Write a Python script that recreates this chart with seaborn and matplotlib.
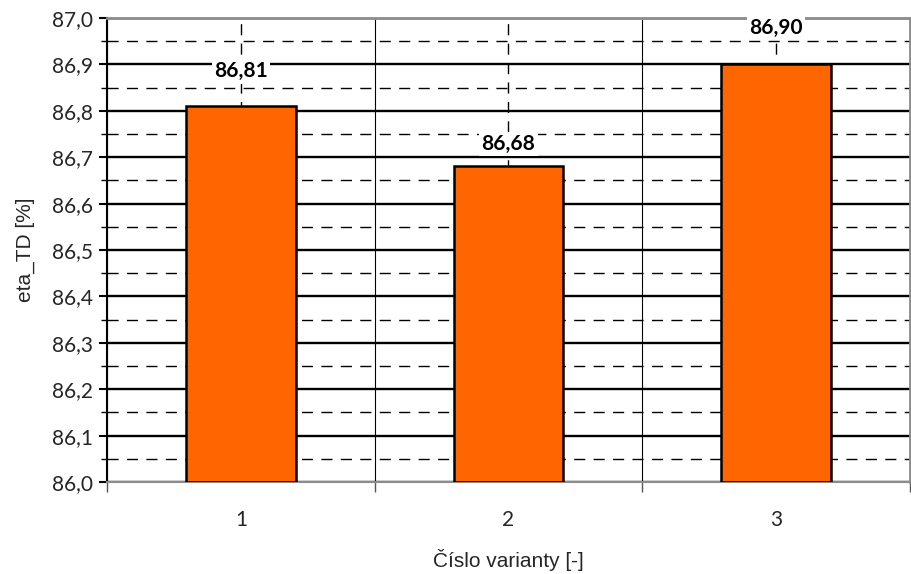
import matplotlib
matplotlib.use("Agg")
import matplotlib.pyplot as plt
from matplotlib.ticker import MultipleLocator, FixedLocator, NullFormatter
import seaborn as sns
import pandas as pd

varianty = ["1", "2", "3"]
eta_td = [86.81, 86.68, 86.90]
popisky = ["86,81", "86,68", "86,90"]
y_ticks = [86.0, 86.1, 86.2, 86.3, 86.4, 86.5, 86.6, 86.7, 86.8, 86.9, 87.0]
y_min = 86.0

df = pd.DataFrame({"varianta": varianty, "eta": eta_td})

sns.set_theme(style="white")
plt.rcParams["font.family"] = ["Lato", "DejaVu Sans"]

fig = plt.figure(figsize=(9.11, 5.74), dpi=100)
ax = fig.add_axes([107 / 911, 92 / 574, 803 / 911, 464 / 574])

sns.barplot(data=df, x="varianta", y="eta", color="#FF6600", width=0.41,
            edgecolor="black", linewidth=1.8, saturation=1, ax=ax, zorder=3)
# bars start at the bottom of the value axis
for p, v in zip(ax.patches, eta_td):
    p.set_y(y_min)
    p.set_height(v - y_min)

ax.set_ylim(y_min, 87.0)
ax.set_xlim(-0.5, 2.5)

dash = (0, (8, 6))

# y grid: solid major, dashed minor
ax.yaxis.set_major_locator(FixedLocator(y_ticks))
ax.yaxis.set_minor_locator(MultipleLocator(0.05))
ax.set_yticklabels([f"{v:.1f}".replace(".", ",") for v in y_ticks], fontsize=15)
ax.grid(axis="y", which="major", color="black", linewidth=1.7, zorder=1)
ax.grid(axis="y", which="minor", color="black", linewidth=1.0,
        linestyle=dash, zorder=1)

# x axis: ticks at category boundaries, labels at centers
ax.xaxis.set_major_locator(FixedLocator([-0.5, 0.5, 1.5, 2.5]))
ax.xaxis.set_major_formatter(NullFormatter())
ax.xaxis.set_minor_locator(FixedLocator([0, 1, 2]))
ax.set_xticklabels(varianty, minor=True, fontsize=15)
ax.tick_params(axis="x", which="major", direction="out", length=7, width=1,
               color="#555555", bottom=True)
ax.tick_params(axis="x", which="minor", length=0, pad=20)
ax.grid(axis="x", which="major", color="black", linewidth=0.8, zorder=1)
ax.grid(axis="x", which="minor", color="black", linewidth=1.0,
        linestyle=dash, zorder=1)

ax.tick_params(axis="y", which="major", direction="out", length=6, width=1.5,
               color="black", left=True, pad=4)
ax.tick_params(axis="y", which="minor", direction="out", length=4, width=1,
               color="black", left=True)

for side in ["top", "right"]:
    ax.spines[side].set_visible(True)
    ax.spines[side].set_color("#8c8c8c")
    ax.spines[side].set_linewidth(2)
ax.spines["bottom"].set_color("#8c8c8c")
ax.spines["bottom"].set_linewidth(1.5)
ax.spines["left"].set_color("black")
ax.spines["left"].set_linewidth(1.5)

# value labels above the bars (offset in points), on a white patch
label_offsets = [25, 16, 26]
for i, (v, t, off) in enumerate(zip(eta_td, popisky, label_offsets)):
    ax.annotate(t, xy=(i, v), xytext=(0, off), textcoords="offset points",
                ha="center", va="center", fontsize=15, fontweight="bold",
                color="black", zorder=4,
                bbox=dict(facecolor="white", edgecolor="none", pad=1.5))

ax.set_xlabel("Číslo varianty [-]", fontsize=15,
              family=["Liberation Sans", "DejaVu Sans"], labelpad=14)
ax.set_ylabel("eta_TD [%]", fontsize=15,
              family=["Liberation Sans", "DejaVu Sans"], labelpad=12)

fig.savefig("out.png", dpi=100)
